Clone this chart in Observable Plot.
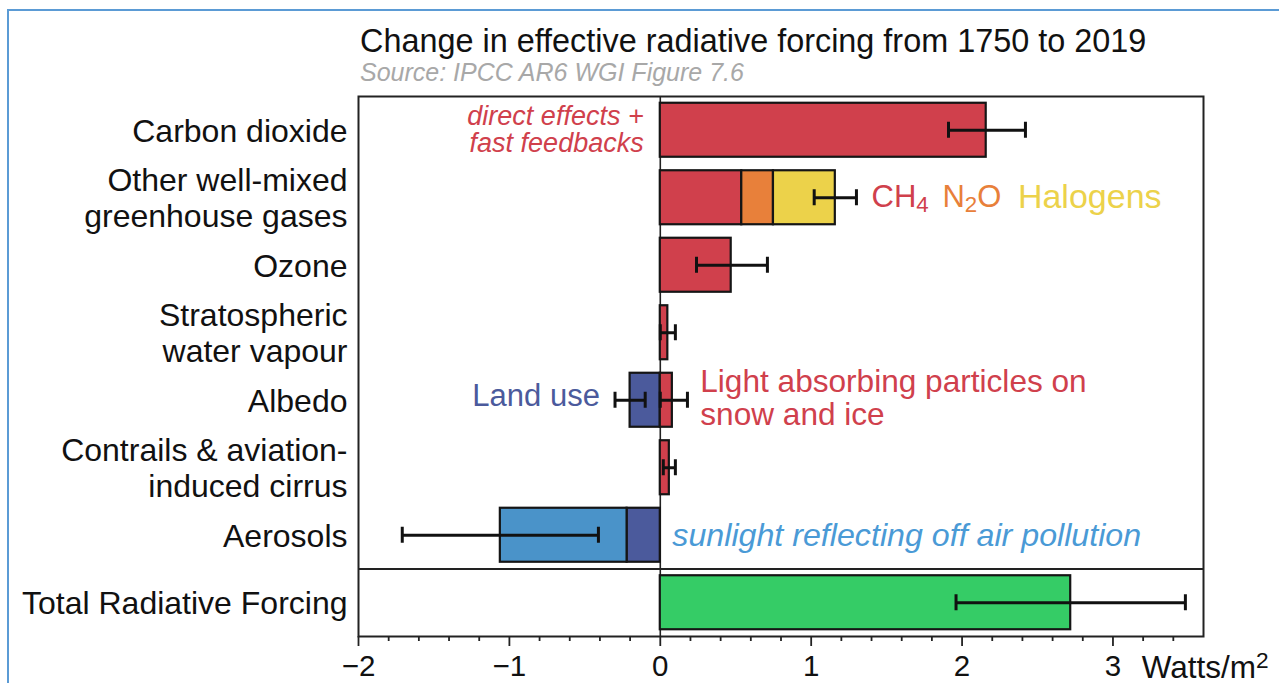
<!DOCTYPE html>
<html><head><meta charset="utf-8">
<script src="https://cdn.jsdelivr.net/npm/d3@7"></script>
<script src="https://cdn.jsdelivr.net/npm/@observablehq/plot@0.6"></script>
<style>
html,body{margin:0;padding:0;background:#fff;overflow:hidden}
#wrap{position:relative;width:1279px;height:683px;font-family:"Liberation Sans",Arial,sans-serif}
#border{position:absolute;left:7px;top:9px;width:1300px;height:700px;border-top:2px solid #5b9bd5;border-left:2px solid #5b9bd5}
#chart{position:absolute;left:0;top:0}
#title{position:absolute;left:360px;top:25px;font-size:32.4px;line-height:1;color:#111;white-space:nowrap}
#subtitle{position:absolute;left:360px;top:60px;font-size:25px;font-style:italic;line-height:1;color:#a8a8a8;white-space:nowrap}
</style></head><body>
<div id="wrap">
  <div id="border"></div>
  <div id="chart"></div>
  <div id="title">Change in effective radiative forcing from 1750 to 2019</div>
  <div id="subtitle">Source: IPCC AR6 WGI Figure 7.6</div>
</div>
<script>
// ---- data ----
const categories = [
  "Carbon dioxide",
  "Other well-mixed\ngreenhouse gases",
  "Ozone",
  "Stratospheric\nwater vapour",
  "Albedo",
  "Contrails & aviation-\ninduced cirrus",
  "Aerosols",
  "Total Radiative Forcing"
];
const components = ["CO₂","CH₄","N₂O","Halogens","Ozone","Stratospheric H₂O","Land use","Light absorbing particles","Contrails","Aerosol–radiation","Aerosol–cloud","Total"];
const componentCategory = [0,1,1,1,2,3,4,4,5,6,6,7];
const componentValues = [2.16,0.54,0.21,0.41,0.47,0.05,-0.20,0.08,0.06,-0.22,-0.84,2.72];

const errorCategory = [0,1,2,3,4,4,5,6,7];
const errorLow  = [1.91,1.02,0.24,0.00,-0.30,0.00,0.02,-1.71,1.96];
const errorHigh = [2.42,1.30,0.71,0.10,-0.10,0.18,0.10,-0.41,3.48];

const majorTicks = [-2,-1,0,1,2,3];
const minorTicks = d3.range(-9, 18).map(i => Math.round(i * 2) / 10).filter(v => !Number.isInteger(v));
const unitLabel = "Watts/m²";
const unitLabelX = 3.19;

const notes = ["direct effects +\nfast feedbacks","CH₄","N₂O","Halogens","Land use","Light absorbing particles on\nsnow and ice","sunlight reflecting off air pollution"];
const noteCategory = [0,1,1,1,4,4,6];
const noteX = [-0.11,1.40,1.87,2.37,-0.40,0.265,0.08];

// ---- styles ----
const RED = "#d0404c", ORANGE = "#e8803a", YELLOW = "#ecd24a", DBLUE = "#4b5a9c", LBLUE = "#4a93c9", GREEN = "#35cc66";
const componentColors = [RED,RED,ORANGE,YELLOW,RED,RED,DBLUE,RED,RED,DBLUE,LBLUE,GREEN];

// ---- tables ----
const bars = components.map((c,i) => ({component: c, category: categories[componentCategory[i]], value: componentValues[i]}));
const errs = errorCategory.map((c,i) => ({category: categories[c], lo: errorLow[i], hi: errorHigh[i]}));
const caps = errs.flatMap(d => [{category: d.category, x: d.lo}, {category: d.category, x: d.hi}]);
const note = (i) => [{text: notes[i], category: categories[noteCategory[i]], x: noteX[i]}];

const W = 1279, H = 683, mT = 96, mB = 47, mL = 358, mR = 76;
const step = (H - mT - mB) / categories.length;

const plot = Plot.plot({
  width: W, height: H,
  marginTop: mT, marginBottom: mB, marginLeft: mL, marginRight: mR,
  style: {fontFamily: "'Liberation Sans', Arial, sans-serif", fontSize: "31px", color: "#111", background: "transparent", overflow: "visible"},
  x: {domain: [-2, 3.6], axis: null},
  y: {domain: categories, paddingInner: 0.2, paddingOuter: 0.1, round: false, axis: null},
  color: {type: "ordinal", domain: components, range: componentColors},
  marks: [
    Plot.ruleX([0], {stroke: "#222", strokeWidth: 1.6}),
    Plot.ruleY([categories[7]], {dy: -step / 2, stroke: "#222", strokeWidth: 1.8}),
    Plot.barX(bars, {x: "value", y: "category", fill: "component", stroke: "#151515", strokeWidth: 2.2}),
    Plot.ruleY(errs, {y: "category", x1: "lo", x2: "hi", stroke: "#111", strokeWidth: 3}),
    Plot.tickX(caps, {x: "x", y: "category", insetTop: 19, insetBottom: 19, stroke: "#111", strokeWidth: 3}),
    Plot.frame({stroke: "#222", strokeWidth: 2}),
    Plot.axisX({ticks: minorTicks, tickSize: 5, tickFormat: () => "", strokeWidth: 1.8, stroke: "#222"}),
    Plot.axisX({ticks: majorTicks, tickSize: 10, tickPadding: 9, strokeWidth: 1.8, stroke: "#222", fontSize: 29.5, label: null,
      tickFormat: d => (d < 0 ? "\u2212" : "") + Math.abs(d)}),
    Plot.text([unitLabel], {x: () => unitLabelX, text: d => d, frameAnchor: "bottom", lineAnchor: "middle", dy: 31, textAnchor: "start", fontSize: 31.5, fill: "#111"}),
    Plot.text(categories, {y: d => d, text: d => d, frameAnchor: "left", textAnchor: "end", dx: -11, fontSize: 32, lineHeight: 1.1, fill: "#111"}),
    Plot.text(note(0), {x: "x", y: "category", text: "text", textAnchor: "end", fontStyle: "italic", fontSize: 27, lineHeight: 1.0, fill: RED}),
    Plot.text(note(1), {x: "x", y: "category", text: "text", textAnchor: "start", fontSize: 31, dy: -1, fill: RED}),
    Plot.text(note(2), {x: "x", y: "category", text: "text", textAnchor: "start", fontSize: 31, dy: -1, fill: ORANGE}),
    Plot.text(note(3), {x: "x", y: "category", text: "text", textAnchor: "start", fontSize: 34, dy: -1, fill: YELLOW}),
    Plot.text(note(4), {x: "x", y: "category", text: "text", textAnchor: "end", fontSize: 31, dy: -4, fill: DBLUE}),
    Plot.text(note(5), {x: "x", y: "category", text: "text", textAnchor: "start", fontSize: 31.6, lineHeight: 1.05, dy: -2, fill: RED}),
    Plot.text(note(6), {x: "x", y: "category", text: "text", textAnchor: "start", fontStyle: "italic", fontSize: 32.2, fill: "#4a9ad6"})
  ]
});

// render Unicode sub/superscript digits as shifted tspans
const subs = "₀₁₂₃₄₅₆₇₈₉", sups = "⁰¹²³⁴⁵⁶⁷⁸⁹";
plot.querySelectorAll("text").forEach(t => {
  if (t.children.length) return;
  const s = t.textContent;
  if (![...s].some(ch => subs.includes(ch) || sups.includes(ch))) return;
  t.textContent = "";
  const NS = "http://www.w3.org/2000/svg";
  for (const ch of s) {
    const ts = document.createElementNS(NS, "tspan");
    if (subs.includes(ch)) {
      ts.textContent = String(subs.indexOf(ch));
      ts.setAttribute("font-size", "72%");
      ts.setAttribute("baseline-shift", "-22%");
    } else if (sups.includes(ch)) {
      ts.textContent = String(sups.indexOf(ch));
      ts.setAttribute("font-size", "72%");
      ts.setAttribute("baseline-shift", "45%");
    } else {
      ts.textContent = ch;
    }
    t.appendChild(ts);
  }
});
document.getElementById("chart").appendChild(plot);
</script>
</body></html>
